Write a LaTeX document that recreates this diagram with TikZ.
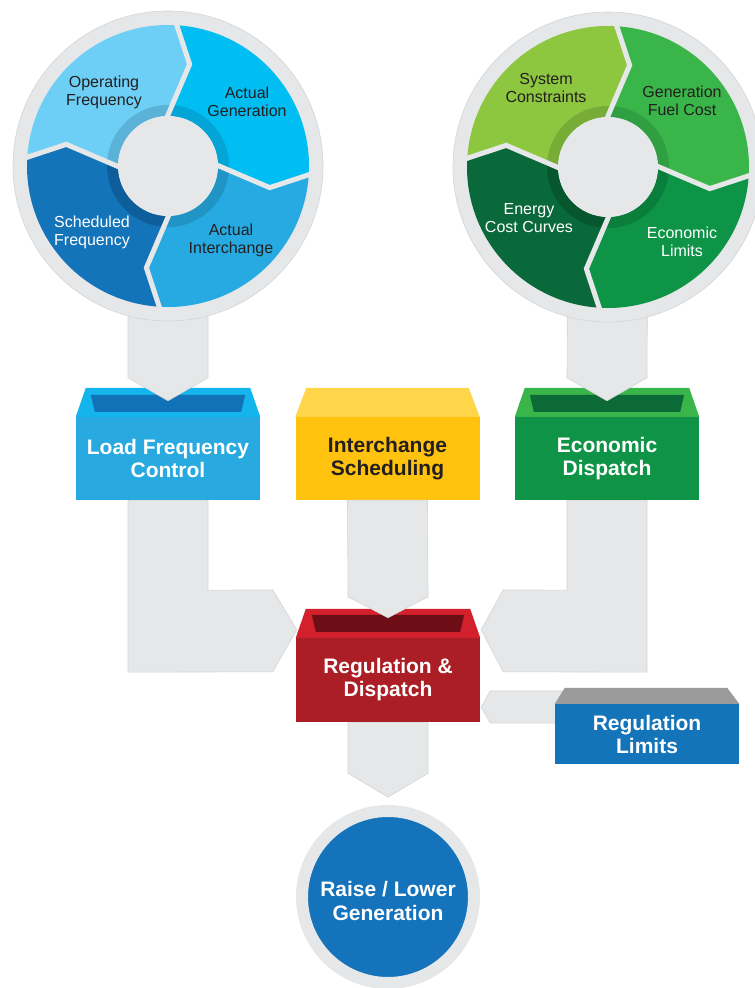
\documentclass[tikz,border=0pt]{standalone}
\usepackage{fontspec}
\setsansfont{Liberation Sans}
\usetikzlibrary{calc,backgrounds}

\definecolor{pipegray}{HTML}{E6E7E8}
\definecolor{pipeedge}{HTML}{D3D4D6}
% left wheel
\definecolor{opfreq}{HTML}{6DCFF6}   \definecolor{opband}{HTML}{5BB2D8}
\definecolor{actgen}{HTML}{00BDF2}   \definecolor{actgenband}{HTML}{02A5D6}
\definecolor{actint}{HTML}{27AAE1}   \definecolor{actintband}{HTML}{2194C6}
\definecolor{schfreq}{HTML}{1474BA}  \definecolor{schband}{HTML}{0E5E9B}
% right wheel
\definecolor{syscon}{HTML}{8DC63F}   \definecolor{sysband}{HTML}{77AC36}
\definecolor{genfuel}{HTML}{3AB54A}  \definecolor{genfuelband}{HTML}{2F9F41}
\definecolor{econlim}{HTML}{0E9447}  \definecolor{econlimband}{HTML}{0A7E3B}
\definecolor{energy}{HTML}{0A693A}   \definecolor{energyband}{HTML}{06562E}
% trays
\definecolor{lfcrim}{HTML}{14B4EC}   \definecolor{lfcfront}{HTML}{28A9E0}  \definecolor{lfcwell}{HTML}{1272B8}
\definecolor{interrim}{HTML}{FFD54A} \definecolor{interfront}{HTML}{FFC20F}
\definecolor{econrim}{HTML}{3AB54A}  \definecolor{econfront}{HTML}{0F9447} \definecolor{econwell}{HTML}{0B6A36}
\definecolor{regrim}{HTML}{D2202D}   \definecolor{regfront}{HTML}{AC1E25}  \definecolor{regwell}{HTML}{6D0D16}
\definecolor{limrim}{HTML}{9B9B9B}   \definecolor{limfront}{HTML}{1474BA}
\definecolor{raiseblue}{HTML}{1473BA}
\definecolor{inkdark}{HTML}{231F20}

% one arrow-shaped part of a wheel: centre, from angle, to angle, colour
\newcommand{\ringpart}[4]{%
  \fill[fill=#4] ([shift={(#1)}]#2-2.5:141) arc[start angle=#2-2.5, end angle=#3-2.5, radius=141]
    -- ([shift={(#1)}]#3-12:104) -- ([shift={(#1)}]#3+4:50)
    arc[start angle=#3+4, end angle=#2+4, radius=50]
    -- ([shift={(#1)}]#2-12:104) -- cycle;}
% the white-grey cut between two parts
\newcommand{\ringgap}[2]{%
  \draw[gap] ([shift={(#1)}]#2-2.5:148) -- ([shift={(#1)}]#2-12:104) -- ([shift={(#1)}]#2+4:44);}

\begin{document}
\begin{tikzpicture}[x=1pt, y=1pt, font=\sffamily,
  pipe/.style={fill=pipegray, draw=pipeedge, line width=0.6pt},
  gap/.style={draw=pipegray, line width=5pt, line join=miter},
  tray/.style={rectangle, minimum width=184, minimum height=83, inner sep=0pt,
    align=center, text=white, font=\sffamily\bfseries\fontsize{21}{23}\selectfont},
  seglabel/.style={align=center, text=inkdark, font=\sffamily\fontsize{16}{18}\selectfont}]

  \useasboundingbox (0,0) rectangle (755,988);

  % trays
  \node[tray, fill=lfcfront] (lfc) at (168,529.5) {Load Frequency\\Control};
  \fill[lfcrim] (lfc.north west) -- ++(10,29) -- ($(lfc.north east)+(-10,29)$) -- (lfc.north east) -- cycle;
  \fill[lfcwell] ($(lfc.north west)+(15,22)$) -- ($(lfc.north east)+(-15,22)$)
    -- ($(lfc.north east)+(-19,5)$) -- ($(lfc.north west)+(19,5)$) -- cycle;

  \node[tray, fill=interfront, text=inkdark] (inter) at (387.5,529.5) {Interchange\\Scheduling};
  \fill[interrim] (inter.north west) -- ++(11,29) -- ($(inter.north east)+(-11,29)$) -- (inter.north east) -- cycle;

  \node[tray, fill=econfront] (econ) at (607,529.5) {Economic\\Dispatch};
  \fill[econrim] (econ.north west) -- ++(10,29) -- ($(econ.north east)+(-10,29)$) -- (econ.north east) -- cycle;
  \fill[econwell] ($(econ.north west)+(15,22)$) -- ($(econ.north east)+(-15,22)$)
    -- ($(econ.north east)+(-19,5)$) -- ($(econ.north west)+(19,5)$) -- cycle;

  \node[tray, fill=regfront, minimum height=84] (reg) at (388,308) {Regulation \&\\Dispatch};
  \fill[regrim] (reg.north west) -- ++(10,29) -- ($(reg.north east)+(-10,29)$) -- (reg.north east) -- cycle;
  \fill[regwell] ($(reg.north west)+(16,23)$) -- ($(reg.north east)+(-16,23)$)
    -- ($(reg.north east)+(-20,6)$) -- ($(reg.north west)+(20,6)$) -- cycle;

  \node[tray, fill=limfront, minimum height=60] (reglim) at (647,254) {Regulation\\Limits};
  \fill[limrim] (reglim.north west) -- ++(10,16) -- ($(reglim.north east)+(-12,16)$) -- (reglim.north east) -- cycle;

  \node[circle, fill=raiseblue, draw=pipegray, line width=12, minimum size=172,
    label={[yshift=-4, align=center, text=white, font=\sffamily\bfseries\fontsize{21}{24}\selectfont]center:Raise / Lower\\Generation}]
    (raise) at (388,91) {};

  % pipes running under the trays
  \begin{pgfonlayer}{background}
    \draw[pipe] ($(lfc.south)+(-40,0)$) -- ($(lfc.south)+(-40,-172)$) -- ($(reg.north west)+(-23,-34)$)
      -- ($(reg.north west)+(1,8)$) -- ($(reg.north west)+(-23,48)$) -- ($(lfc.south)+(40,-90)$)
      -- ($(lfc.south)+(40,0)$) -- cycle;
    \draw[pipe] ($(econ.south)+(40,0)$) -- ($(econ.south)+(40,-172)$) -- ($(reg.north east)+(23,-34)$)
      -- ($(reg.north east)+(1,8)$) -- ($(reg.north east)+(23,48)$) -- ($(econ.south)+(-40,-90)$)
      -- ($(econ.south)+(-40,0)$) -- cycle;
    \draw[pipe] ($(reglim.west)+(60,43)$) -- ($(reg.east)+(10,-11)$) -- ($(reg.east)+(1,-27)$)
      -- ($(reg.east)+(10,-43)$) -- ($(reglim.west)+(60,11)$) -- cycle;
    \draw[pipe] ($(reg.south)+(-40,0)$) -- ($(reg.south)+(-40,-51)$) -- ($(reg.south)+(0,-75)$)
      -- ($(reg.south)+(40,-51)$) -- ($(reg.south)+(40,0)$) -- cycle;
  \end{pgfonlayer}

  % pipes falling into the trays
  \coordinate (lc) at (168,822);
  \coordinate (rc) at (608,821);
  \draw[pipe] ($(lc)+(-40,0)$) -- ($(lfc.north)+(-40,39)$) -- ($(lfc.north)+(0,16)$)
    -- ($(lfc.north)+(40,39)$) -- ($(lc)+(40,0)$) -- cycle;
  \draw[pipe] ($(rc)+(-40,0)$) -- ($(econ.north)+(-40,39)$) -- ($(econ.north)+(0,16)$)
    -- ($(econ.north)+(40,39)$) -- ($(rc)+(40,0)$) -- cycle;
  \draw[pipe] ($(inter.south)+(-40,0)$) -- ($(reg.north)+(-40,41)$) -- ($(reg.north)+(0,20)$)
    -- ($(reg.north)+(40,41)$) -- ($(inter.south)+(40,0)$) -- cycle;

  % left wheel
  \node[circle, pipe, minimum size=310] (ldisc) at (lc) {};
  \foreach \a/\b/\c in {180/90/opfreq, 90/0/actgen, 0/-90/actint, -90/-180/schfreq}
    {\ringpart{lc}{\a}{\b}{\c}}
  \begin{scope}
    \clip (lc) circle (61);
    \foreach \a/\b/\c in {180/90/opband, 90/0/actgenband, 0/-90/actintband, -90/-180/schband}
      {\ringpart{lc}{\a}{\b}{\c}}
  \end{scope}
  \foreach \a in {90,0,-90,180} {\ringgap{lc}{\a}}
  \node[circle, fill=pipegray, minimum size=100] (lhub) at (lc) {};

  \node[seglabel] (opfreq) at (104,896) {Operating\\Frequency};
  \node[seglabel] (actgen) at (247,886) {Actual\\Generation};
  \node[seglabel] (actint) at (231,748) {Actual\\Interchange};
  \node[seglabel, text=white] (schfreq) at (92,756) {Scheduled\\Frequency};

  % right wheel
  \node[circle, pipe, minimum size=310] (rdisc) at (rc) {};
  \foreach \a/\b/\c in {180/90/syscon, 90/0/genfuel, 0/-90/econlim, -90/-180/energy}
    {\ringpart{rc}{\a}{\b}{\c}}
  \begin{scope}
    \clip (rc) circle (61);
    \foreach \a/\b/\c in {180/90/sysband, 90/0/genfuelband, 0/-90/econlimband, -90/-180/energyband}
      {\ringpart{rc}{\a}{\b}{\c}}
  \end{scope}
  \foreach \a in {90,0,-90,180} {\ringgap{rc}{\a}}
  \node[circle, fill=pipegray, minimum size=100] (rhub) at (rc) {};

  \node[seglabel] (syscon) at (546,900) {System\\Constraints};
  \node[seglabel] (genfuel) at (682,887) {Generation\\Fuel Cost};
  \node[seglabel, text=white] (econlim) at (682,746) {Economic\\Limits};
  \node[seglabel, text=white] (energy) at (529,770) {Energy\\Cost Curves};
\end{tikzpicture}
\end{document}
